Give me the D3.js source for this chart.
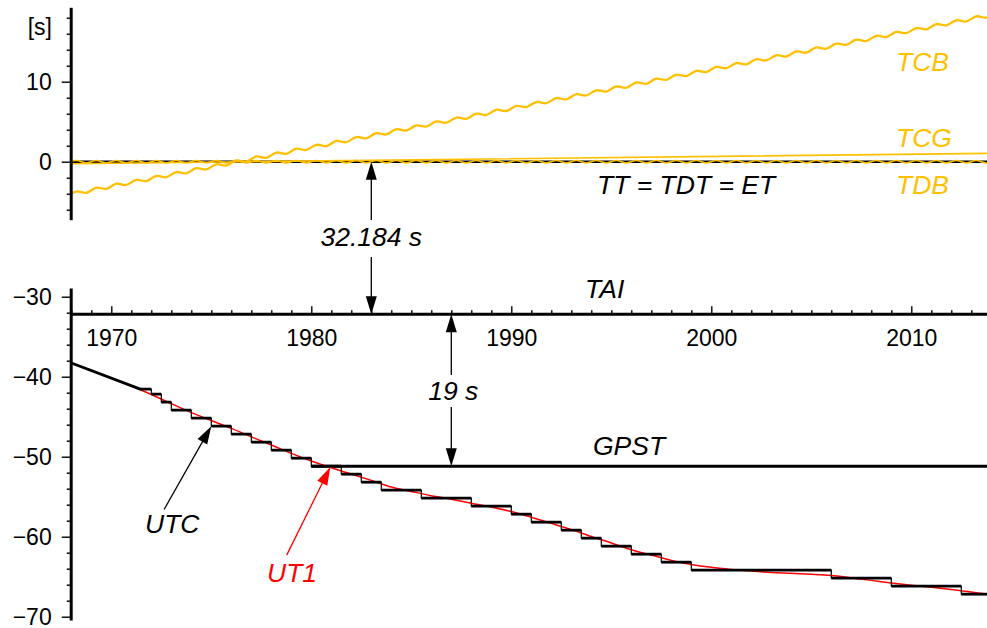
<!DOCTYPE html>
<html>
<head>
<meta charset="utf-8">
<script src="https://cdn.jsdelivr.net/npm/d3@7"></script>
<style>
body { margin: 0; background: #fff; }
text { font-family: 'Liberation Sans', Arial, Helvetica, sans-serif; }
.note { font-size: 26.5px; font-style: italic; }
</style>
</head>
<body>
<div id="chart"></div>
<script>
// ---- data (seconds, relative to TT) ----
const yearMajors = [1970, 1980, 1990, 2000, 2010];
const topMajors = [0, 10];
const bottomMajors = [-30, -40, -50, -60, -70];

const ttValue = 0;
const taiMinusTt = -32.184;
const gpsMinusTai = -19;
const gpsStart = 1980;

// TCG - TT
const tcgYears = [1968, 1977, 2014];
const tcgValues = [-0.26, 0, 1.05];

// half-year samples starting 1967.75 (annual term exaggerated as in the figure)
const sampleStart = 1967.75;
const tcbValues = [
  -4.37, -3.73, -3.89, -3.24, -3.40, -2.75, -2.91, -2.27, -2.43, -1.78,
  -1.94, -1.30, -1.45, -0.81, -0.97, -0.32, -0.48, 0.16, 0.01, 0.65,
  0.49, 1.14, 0.98, 1.62, 1.47, 2.11, 1.95, 2.60, 2.44, 3.08,
  2.93, 3.57, 3.41, 4.06, 3.90, 4.54, 4.39, 5.03, 4.87, 5.52,
  5.36, 6.00, 5.85, 6.49, 6.33, 6.98, 6.82, 7.46, 7.31, 7.95,
  7.79, 8.44, 8.28, 8.92, 8.77, 9.41, 9.25, 9.90, 9.74, 10.38,
  10.23, 10.87, 10.71, 11.36, 11.20, 11.84, 11.69, 12.33, 12.17, 12.82,
  12.66, 13.30, 13.15, 13.79, 13.63, 14.28, 14.12, 14.76, 14.61, 15.25,
  15.09, 15.74, 15.58, 16.22, 16.07, 16.71, 16.55, 17.20, 17.04, 17.68,
  17.53, 18.17, 18.01, 18.66
];
const tdbValues = [
  -0.15, 0.15, -0.15, 0.15, -0.15, 0.15, -0.15, 0.15, -0.15, 0.15,
  -0.15, 0.15, -0.15, 0.15, -0.15, 0.15, -0.15, 0.15, -0.15, 0.15,
  -0.15, 0.15, -0.15, 0.15, -0.15, 0.15, -0.15, 0.15, -0.15, 0.15,
  -0.15, 0.15, -0.15, 0.15, -0.15, 0.15, -0.15, 0.15, -0.15, 0.15,
  -0.15, 0.15, -0.15, 0.15, -0.15, 0.15, -0.15, 0.15, -0.15, 0.15,
  -0.15, 0.15, -0.15, 0.15, -0.15, 0.15, -0.15, 0.15, -0.15, 0.15,
  -0.15, 0.15, -0.15, 0.15, -0.15, 0.15, -0.15, 0.15, -0.15, 0.15,
  -0.15, 0.15, -0.15, 0.15, -0.15, 0.15, -0.15, 0.15, -0.15, 0.15,
  -0.15, 0.15, -0.15, 0.15, -0.15, 0.15, -0.15, 0.15, -0.15, 0.15,
  -0.15, 0.15, -0.15, 0.15
];

// UTC before 1972 (rubber seconds)
const utcEarlyYears = [1967.97, 1971.45, 1972.0];
const utcEarlyValues = [-38.26, -41.55, -41.55];
// leap seconds
const leapYears = [1972.0, 1972.5, 1973, 1974, 1975, 1976, 1977, 1978, 1979, 1980,
  1981.5, 1982.5, 1983.5, 1985.5, 1988, 1990, 1991, 1992.5, 1993.5, 1994.5,
  1996, 1997.5, 1999, 2006, 2009, 2012.5];
const taiMinusUtc = [10, 11, 12, 13, 14, 15, 16, 17, 18, 19,
  20, 21, 22, 23, 24, 25, 26, 27, 28, 29,
  30, 31, 32, 33, 34, 35];

// TT - UT1 on Jan 1
const ut1Years = [1968, 1969, 1970, 1971, 1972, 1973, 1974, 1975, 1976, 1977,
  1978, 1979, 1980, 1981, 1982, 1983, 1984, 1985, 1986, 1987,
  1988, 1989, 1990, 1991, 1992, 1993, 1994, 1995, 1996, 1997,
  1998, 1999, 2000, 2001, 2002, 2003, 2004, 2005, 2006, 2007,
  2008, 2009, 2010, 2011, 2012, 2013, 2014];
const deltaT = [38.29, 39.20, 40.18, 41.17, 42.23, 43.37, 44.49, 45.48, 46.46, 47.52,
  48.53, 49.59, 50.54, 51.38, 52.17, 52.96, 53.79, 54.34, 54.87, 55.32,
  55.82, 56.30, 56.86, 57.57, 58.31, 59.12, 59.98, 60.78, 61.63, 62.29,
  62.97, 63.47, 63.83, 64.09, 64.30, 64.47, 64.57, 64.69, 64.85, 65.15,
  65.46, 65.78, 66.07, 66.32, 66.60, 66.91, 67.28];

// ---- chart ----
const W = 987, H = 628;
const yellow = '#ffc000';
const tickFont = 23;
const svg = d3.select('#chart').append('svg').attr('width', W).attr('height', H);

const x = d3.scaleLinear().domain([1970, 2010]).range([111.3, 911.3]);
const xMin = 1967.97, xMax = x.invert(W + 2);
const yTop = d3.scaleLinear().domain([-7.25, 19.3]).range([219.7, 7.3]);
const yBot = d3.scaleLinear().domain([-70.4, -28.9]).range([619.9, 287.9]);

svg.append('clipPath').attr('id', 'plot')
  .append('rect').attr('x', x(xMin)).attr('y', 0).attr('width', W - x(xMin)).attr('height', H);

const plot = svg.append('g').attr('clip-path', 'url(#plot)');

function lineOf(scale, curve) {
  return d3.line().x(d => x(d[0])).y(d => scale(d[1])).curve(curve || d3.curveLinear);
}
function draw(data, scale, color, width, curve) {
  plot.append('path').datum(data)
    .attr('d', lineOf(scale, curve))
    .attr('fill', 'none').attr('stroke', color).attr('stroke-width', width)
    .attr('stroke-linejoin', 'round');
}

const halfYears = tcbValues.map((v, i) => sampleStart + i / 2);

// upper panel
draw([[xMin, ttValue], [xMax, ttValue]], yTop, '#000', 2.6);
draw(tdbValues.map((v, i) => [halfYears[i], v]), yTop, yellow, 1.5, d3.curveCardinal.tension(0));
draw(tcgYears.map((t, i) => [t, tcgValues[i]]), yTop, yellow, 1.6);
draw(tcbValues.map((v, i) => [halfYears[i], v]), yTop, yellow, 2.3, d3.curveCardinal.tension(0));

// lower panel
draw([[xMin, taiMinusTt], [xMax, taiMinusTt]], yBot, '#000', 3);
draw([[gpsStart, taiMinusTt + gpsMinusTai], [xMax, taiMinusTt + gpsMinusTai]], yBot, '#000', 3);
draw(ut1Years.map((t, i) => [t, -deltaT[i]]), yBot, '#ff0000', 1.5, d3.curveMonotoneX);

const utcPts = utcEarlyYears.map((t, i) => [t, utcEarlyValues[i]]);
leapYears.forEach((t, i) => {
  utcPts.push([t, utcPts[utcPts.length - 1][1]]);
  utcPts.push([t, taiMinusTt - taiMinusUtc[i]]);
});
utcPts.push([xMax, utcPts[utcPts.length - 1][1]]);
draw(utcPts, yBot, '#000', 1.2);
d3.pairs(utcPts).filter(p => p[0][0] !== p[1][0]).forEach(p => draw(p, yBot, '#000', 2.8));

// y axes (broken)
const axisX = x(xMin);
function yAxis(scale, majors, from, to) {
  const minors = d3.range(from, to + 0.1, 2).filter(v => !majors.includes(v));
  const gMin = svg.append('g').attr('transform', `translate(${axisX},0)`)
    .call(d3.axisLeft(scale).tickValues(minors).tickSize(4).tickSizeOuter(0).tickFormat(''));
  const gMaj = svg.append('g').attr('transform', `translate(${axisX},0)`)
    .call(d3.axisLeft(scale).tickValues(majors).tickSize(9).tickSizeOuter(0).tickPadding(10)
      .tickFormat(d => d < 0 ? '\u2212' + (-d) : String(d)));
  [gMin, gMaj].forEach(g => {
    g.attr('font-family', null).attr('font-size', null);
    g.select('.domain').attr('stroke-width', 3);
    g.selectAll('.tick line').attr('stroke-width', 1.4);
    g.selectAll('.tick text').style('font-size', tickFont + 'px').attr('fill', '#000');
  });
  gMin.select('.domain').remove();
}
yAxis(yTop, topMajors, -6, 18);
yAxis(yBot, bottomMajors, -70, -30);

svg.append('text').attr('x', 52).attr('y', 35).attr('text-anchor', 'end')
  .style('font-size', tickFont + 'px').text('[s]');

// x axis on the TAI line
const axisY = yBot(taiMinusTt);
const years = d3.range(1968, 2014);
const gx1 = svg.append('g').attr('transform', `translate(0,${axisY})`)
  .call(d3.axisBottom(x).tickValues(years.filter(v => !yearMajors.includes(v))).tickSize(-4).tickFormat(''));
const gx2 = svg.append('g').attr('transform', `translate(0,${axisY})`)
  .call(d3.axisBottom(x).tickValues(yearMajors).tickSize(-8).tickPadding(15.3).tickFormat(d3.format('d')));
[gx1, gx2].forEach(g => {
  g.attr('font-family', null).attr('font-size', null);
  g.select('.domain').remove();
  g.selectAll('.tick line').attr('stroke-width', 1.4);
  g.selectAll('.tick text').style('font-size', tickFont + 'px').attr('fill', '#000');
});

// arrows
function head(tx, ty, fx, fy, color) {
  const a = Math.atan2(ty - fy, tx - fx), L = 18, hw = 5.5;
  const bx = tx - L * Math.cos(a), by = ty - L * Math.sin(a);
  const px = -Math.sin(a) * hw, py = Math.cos(a) * hw;
  svg.append('path')
    .attr('d', `M${tx},${ty}L${bx + px},${by + py}L${bx - px},${by - py}Z`)
    .attr('fill', color);
}
function seg(x1, y1, x2, y2, color) {
  svg.append('line').attr('x1', x1).attr('y1', y1).attr('x2', x2).attr('y2', y2)
    .attr('stroke', color).attr('stroke-width', 1.3);
}
function vArrow(year, yA, yB, gapA, gapB) {
  const xx = x(year);
  seg(xx, yA + 10, xx, gapA, '#000');
  seg(xx, gapB, xx, yB - 10, '#000');
  head(xx, yA, xx, yA + 20, '#000');
  head(xx, yB, xx, yB - 20, '#000');
}
vArrow(1983, yTop(ttValue), yBot(taiMinusTt), 220, 257);
vArrow(1987, yBot(taiMinusTt), yBot(taiMinusTt + gpsMinusTai), 375, 407);

function pointer(t0, v0, t1, v1, color) {
  const x0 = x(t0), y0 = yBot(v0), x1 = x(t1), y1 = yBot(v1);
  const a = Math.atan2(y1 - y0, x1 - x0);
  seg(x0, y0, x1 - 10 * Math.cos(a), y1 - 10 * Math.sin(a), color);
  head(x1, y1, x0, y0, color);
}
pointer(1972.64, -56.6, 1975.0, -46.184, '#000');
pointer(1978.77, -62.3, 1980.95, -51.3, '#ff0000');

// labels
const labels = [
  { text: 'TCB', x: 896, y: 71, color: yellow },
  { text: 'TCG', x: 896, y: 147, color: yellow },
  { text: 'TDB', x: 896, y: 194, color: yellow },
  { text: 'TT = TDT = ET', x: 597, y: 194, color: '#000' },
  { text: 'TAI', x: 585, y: 298, color: '#000' },
  { text: 'GPST', x: 593, y: 455, color: '#000' },
  { text: 'UTC', x: 145, y: 533, color: '#000' },
  { text: 'UT1', x: 267, y: 582, color: '#ff0000' },
];
svg.selectAll('text.lbl').data(labels).enter().append('text')
  .attr('class', 'note lbl')
  .attr('x', d => d.x).attr('y', d => d.y).attr('fill', d => d.color)
  .text(d => d.text);

svg.append('text').attr('class', 'note').attr('x', x(1983)).attr('y', 246)
  .attr('text-anchor', 'middle').text('32.184 s');
svg.append('text').attr('class', 'note').attr('x', x(1987) + 2).attr('y', 400)
  .attr('text-anchor', 'middle').text('19 s');
</script>
</body>
</html>
